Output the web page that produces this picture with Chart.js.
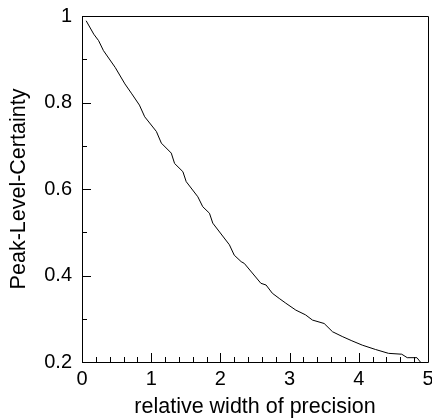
<!DOCTYPE html>
<html>
<head>
<meta charset="utf-8">
<script src="https://cdn.jsdelivr.net/npm/chart.js@4/dist/chart.umd.min.js"></script>
<style>
    html, body { margin: 0; padding: 0; background: #fff; }
    #wrap { width: 432px; height: 420px; position: relative; }
</style>
</head>
<body>
<div id="wrap"><canvas id="chart"></canvas></div>
<script>
// values
const widthValues = [0.06, 0.17, 0.24, 0.31, 0.48, 0.62, 0.72, 0.83, 0.906, 1.075,
    1.147, 1.29, 1.338, 1.458, 1.506, 1.674, 1.745, 1.842, 1.89, 2.13,
    2.2, 2.30, 2.345, 2.585, 2.66, 2.75, 2.85, 2.945, 3.09, 3.23,
    3.33, 3.50, 3.62, 3.76, 3.90, 4.05, 4.24, 4.43, 4.62, 4.70,
    4.84, 4.89];
const certaintyValues = [0.989, 0.958, 0.943, 0.92, 0.881, 0.843, 0.82, 0.794, 0.767, 0.733,
    0.706, 0.683, 0.659, 0.64, 0.617, 0.582, 0.559, 0.544, 0.521, 0.471,
    0.447, 0.432, 0.428, 0.382, 0.378, 0.359, 0.347, 0.336, 0.32, 0.309,
    0.297, 0.289, 0.27, 0.259, 0.249, 0.239, 0.229, 0.22, 0.218, 0.21,
    0.21, 0.20];
const xTickValues = [0, 1, 2, 3, 4, 5];
const yTickValues = [0.2, 0.4, 0.6, 0.8, 1];
const xMinorStep = 0.2;
const yMinorStep = 0.1;

const points = widthValues.map((x, i) => ({ x: x, y: certaintyValues[i] }));

// frame + inward tick marks
const frameTicks = {
    id: 'frameTicks',
    afterDraw(chart) {
        const ctx = chart.ctx;
        const a = chart.chartArea;
        const xs = chart.scales.x;
        const ys = chart.scales.y;
        ctx.save();
        ctx.strokeStyle = '#000';
        ctx.lineWidth = 1;
        ctx.beginPath();
        ctx.rect(Math.round(a.left) + 0.5, Math.round(a.top) + 0.5,
            Math.round(a.right - a.left), Math.round(a.bottom - a.top));
        ctx.stroke();

        ctx.beginPath();
        for (let v = xs.min; v <= xs.max + 1e-9; v += xMinorStep) {
            const px = Math.round(xs.getPixelForValue(v)) + 0.5;
            const major = Math.abs(v - Math.round(v)) < 1e-6;
            ctx.moveTo(px, a.bottom);
            ctx.lineTo(px, a.bottom - (major ? 9 : 5));
        }
        for (let v = ys.min; v <= ys.max + 1e-9; v += yMinorStep) {
            const py = Math.round(ys.getPixelForValue(v)) + 0.5;
            const major = Math.abs(v * 5 - Math.round(v * 5)) < 1e-6;
            ctx.moveTo(a.left, py);
            ctx.lineTo(a.left + (major ? 9 : 5), py);
        }
        ctx.stroke();
        ctx.restore();
    }
};

const fmt = v => String(+Number(v).toFixed(1));

new Chart(document.getElementById('chart'), {
    type: 'scatter',
    data: {
        datasets: [{
            data: points,
            showLine: true,
            borderColor: '#000',
            borderWidth: 1,
            pointRadius: 0,
            tension: 0
        }]
    },
    options: {
        responsive: true,
        maintainAspectRatio: false,
        animation: false,
        layout: { padding: { top: 16, right: 4, left: 0, bottom: 0 } },
        plugins: { legend: { display: false }, tooltip: { enabled: false } },
        scales: {
            x: {
                type: 'linear',
                min: 0,
                max: 5,
                afterBuildTicks: s => { s.ticks = xTickValues.map(v => ({ value: v })); },
                afterFit: s => { s.height = 58; s.paddingLeft = 0; s.paddingRight = 0; },
                grid: { display: false, drawTicks: false },
                border: { display: false },
                ticks: {
                    color: '#000',
                    padding: 5,
                    maxRotation: 0,
                    font: { family: 'Liberation Sans', size: 20 },
                    callback: fmt
                },
                title: {
                    display: true,
                    text: 'relative width of precision',
                    color: '#000',
                    padding: 0,
                    font: { family: 'Liberation Sans', size: 21.5 }
                }
            },
            y: {
                type: 'linear',
                min: 0.2,
                max: 1,
                afterBuildTicks: s => { s.ticks = yTickValues.map(v => ({ value: v })); },
                afterFit: s => { s.width = 82; s.paddingTop = 0; s.paddingBottom = 0; },
                grid: { display: false, drawTicks: false },
                border: { display: false },
                ticks: {
                    color: '#000',
                    padding: 10,
                    font: { family: 'Liberation Sans', size: 20 },
                    callback: fmt
                },
                title: {
                    display: true,
                    text: 'Peak-Level-Certainty',
                    color: '#000',
                    padding: { top: 6, bottom: 0 },
                    font: { family: 'Liberation Sans', size: 21.5 }
                }
            }
        }
    },
    plugins: [frameTicks]
});
</script>
</body>
</html>
